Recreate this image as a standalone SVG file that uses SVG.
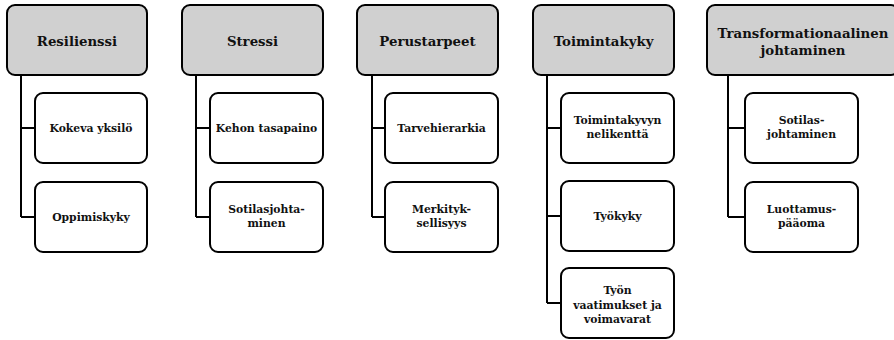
<svg xmlns="http://www.w3.org/2000/svg" width="894" height="340" viewBox="0 0 894 340">
  <style>
    .head rect { fill: #d0d0d0; stroke: #000; stroke-width: 2; }
    .item rect { fill: #fff; stroke: #000; stroke-width: 2; }
    text { font-family: "DejaVu Serif", "Liberation Serif", serif; font-weight: bold; fill: #111; text-anchor: middle; }
    .head text { font-size: 13.3px; }
    .item text { font-size: 10.8px; }
    #connectors path { fill: none; stroke: #000; stroke-width: 2; }
  </style>
  <rect width="894" height="340" fill="#fff"/>

  <!-- tree connectors: a trunk below each heading with a stub to every item -->
  <g id="connectors">
    <path d="M21 75 V217 M21 128 H35 M21 217 H35"/>
    <path d="M196 75 V217 M196 128 H210 M196 217 H210"/>
    <path d="M372 75 V217 M372 128 H385 M372 217 H385"/>
    <path d="M547 75 V303 M547 128 H561 M547 216 H561 M547 303 H561"/>
    <path d="M728 75 V217 M728 128 H745 M728 217 H745"/>
  </g>

  <!-- column 1 -->
  <g id="resilienssi" class="head">
    <rect x="7" y="5" width="140" height="70" rx="8"/>
    <text x="77" y="46">Resilienssi</text>
  </g>
  <g id="kokeva-yksilo" class="item">
    <rect x="35" y="93" width="112" height="70" rx="8"/>
    <text x="91" y="132">Kokeva yksilö</text>
  </g>
  <g id="oppimiskyky" class="item">
    <rect x="35" y="182" width="112" height="70" rx="8"/>
    <text x="91" y="221">Oppimiskyky</text>
  </g>

  <!-- column 2 -->
  <g id="stressi" class="head">
    <rect x="182" y="5" width="141" height="70" rx="8"/>
    <text x="252.5" y="46">Stressi</text>
  </g>
  <g id="kehon-tasapaino" class="item">
    <rect x="210" y="93" width="113" height="70" rx="8"/>
    <text x="266.5" y="132">Kehon tasapaino</text>
  </g>
  <g id="sotilasjohtaminen" class="item">
    <rect x="210" y="182" width="113" height="70" rx="8"/>
    <text x="266.5" y="213">Sotilasjohta-</text>
    <text x="266.5" y="227">minen</text>
  </g>

  <!-- column 3 -->
  <g id="perustarpeet" class="head">
    <rect x="357" y="5" width="141" height="70" rx="8"/>
    <text x="427.5" y="46">Perustarpeet</text>
  </g>
  <g id="tarvehierarkia" class="item">
    <rect x="385" y="93" width="113" height="70" rx="8"/>
    <text x="441.5" y="132">Tarvehierarkia</text>
  </g>
  <g id="merkityksellisyys" class="item">
    <rect x="385" y="182" width="113" height="70" rx="8"/>
    <text x="441.5" y="213">Merkityk-</text>
    <text x="441.5" y="227">sellisyys</text>
  </g>

  <!-- column 4 -->
  <g id="toimintakyky" class="head">
    <rect x="533" y="5" width="141" height="70" rx="8"/>
    <text x="603.5" y="46">Toimintakyky</text>
  </g>
  <g id="toimintakyvyn-nelikentta" class="item">
    <rect x="561" y="93" width="113" height="70" rx="8"/>
    <text x="617.5" y="124">Toimintakyvyn</text>
    <text x="617.5" y="138">nelikenttä</text>
  </g>
  <g id="tyokyky" class="item">
    <rect x="561" y="181" width="113" height="70" rx="8"/>
    <text x="617.5" y="220">Työkyky</text>
  </g>
  <g id="tyon-vaatimukset" class="item">
    <rect x="561" y="268" width="113" height="70" rx="8"/>
    <text x="617.5" y="294">Työn</text>
    <text x="617.5" y="308.5">vaatimukset ja</text>
    <text x="617.5" y="323">voimavarat</text>
  </g>

  <!-- column 5 -->
  <g id="transformationaalinen-johtaminen" class="head">
    <rect x="707" y="5" width="192" height="70" rx="8"/>
    <text x="803" y="38">Transformationaalinen</text>
    <text x="803" y="55">johtaminen</text>
  </g>
  <g id="sotilas-johtaminen" class="item">
    <rect x="745" y="93" width="113" height="70" rx="8"/>
    <text x="801.5" y="124">Sotilas-</text>
    <text x="801.5" y="138">johtaminen</text>
  </g>
  <g id="luottamuspaaoma" class="item">
    <rect x="745" y="182" width="113" height="70" rx="8"/>
    <text x="801.5" y="213">Luottamus-</text>
    <text x="801.5" y="227">pääoma</text>
  </g>
</svg>
